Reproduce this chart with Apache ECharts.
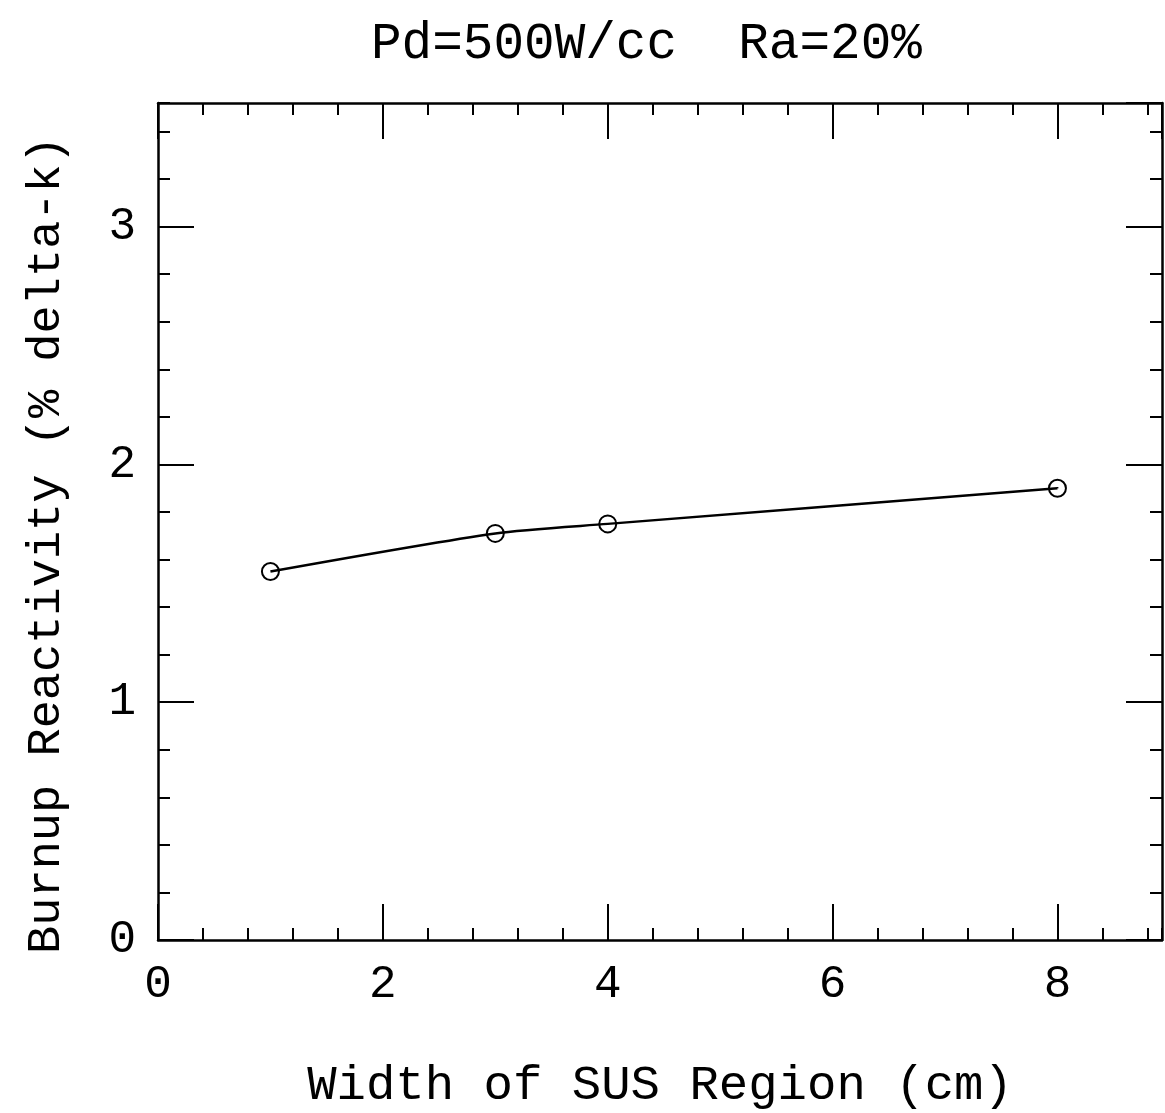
<!DOCTYPE html>
<html>
<head>
<meta charset="utf-8">
<script src="https://cdn.jsdelivr.net/npm/echarts@6/dist/echarts.min.js"></script>
<style>
  html, body { margin: 0; padding: 0; background: #fff; }
  #chart { width: 1165px; height: 1113px; }
</style>
</head>
<body>
<div id="chart"></div>
<script>
// data
const widths = [1, 3, 4, 8];
const reactivity = [1.55, 1.71, 1.75, 1.90];
const xTicks = [0, 2, 4, 6, 8];
const yTicks = [0, 1, 2, 3];

const FONT = 'Liberation Mono';
const X_MAX = 8.93;
const Y_MAX = 3.52;

const chart = echarts.init(document.getElementById('chart'), null, { renderer: 'canvas' });

// one axis for long ticks, a second one for the short ticks
const xAxisBase = (pos, major) => ({
  type: 'value',
  gridIndex: 0,
  position: pos,
  min: 0,
  max: X_MAX,
  interval: major ? 2 : 0.4,
  axisLine: { show: major, onZero: false, lineStyle: { color: '#000', width: 2.5 } },
  axisTick: { show: true, inside: true, length: major ? 36 : 12, lineStyle: { color: '#000', width: 2 } },
  axisLabel: {
    show: major && pos === 'bottom',
    color: '#000',
    fontFamily: FONT,
    fontSize: 46,
    margin: 22,
    showMaxLabel: false,
    formatter: (v) => (xTicks.includes(v) ? String(v) : ''),
  },
  splitLine: { show: false },
});

const yAxisBase = (pos, major) => ({
  type: 'value',
  gridIndex: 0,
  position: pos,
  min: 0,
  max: Y_MAX,
  interval: major ? 1 : 0.2,
  axisLine: { show: major, onZero: false, lineStyle: { color: '#000', width: 2.5 } },
  axisTick: { show: true, inside: true, length: major ? 36 : 12, lineStyle: { color: '#000', width: 2 } },
  axisLabel: {
    show: major && pos === 'left',
    color: '#000',
    fontFamily: FONT,
    fontSize: 46,
    margin: 22,
    showMaxLabel: false,
    formatter: (v) => (yTicks.includes(v) ? String(v) : ''),
  },
  splitLine: { show: false },
});

const option = {
  backgroundColor: '#fff',
  animation: false,
  title: {
    text: 'Pd=500W/cc  Ra=20%',
    left: 366,
    top: 14,
    textStyle: { color: '#000', fontFamily: FONT, fontSize: 51, fontWeight: 'normal' },
  },
  grid: { left: 158, right: 3, top: 103, bottom: 173, containLabel: false, outerBoundsMode: 'none' },
  xAxis: [
    Object.assign(xAxisBase('bottom', true), {
      name: 'Width of SUS Region (cm)',
      nameLocation: 'middle',
      nameGap: 122,
      nameTextStyle: { color: '#000', fontFamily: FONT, fontSize: 49 },
    }),
    xAxisBase('bottom', false),
    xAxisBase('top', true),
    xAxisBase('top', false),
  ],
  yAxis: [
    yAxisBase('left', true),
    yAxisBase('left', false),
    yAxisBase('right', true),
    yAxisBase('right', false),
  ],
  graphic: [
    {
      type: 'text',
      x: 47,
      y: 545,
      rotation: Math.PI / 2,
      style: {
        text: 'Burnup Reactivity (% delta-k)',
        fill: '#000',
        font: '47px "Liberation Mono"',
        align: 'center',
        verticalAlign: 'middle',
      },
    },
  ],
  series: [
    {
      type: 'line',
      xAxisIndex: 0,
      yAxisIndex: 0,
      data: widths.map((w, i) => [w, reactivity[i]]),
      smooth: 0.25,
      symbol: 'circle',
      symbolSize: 17,
      lineStyle: { color: '#000', width: 2.5 },
      itemStyle: { color: 'rgba(0,0,0,0)', borderColor: '#000', borderWidth: 2 },
    },
  ],
};

chart.setOption(option);
</script>
</body>
</html>
